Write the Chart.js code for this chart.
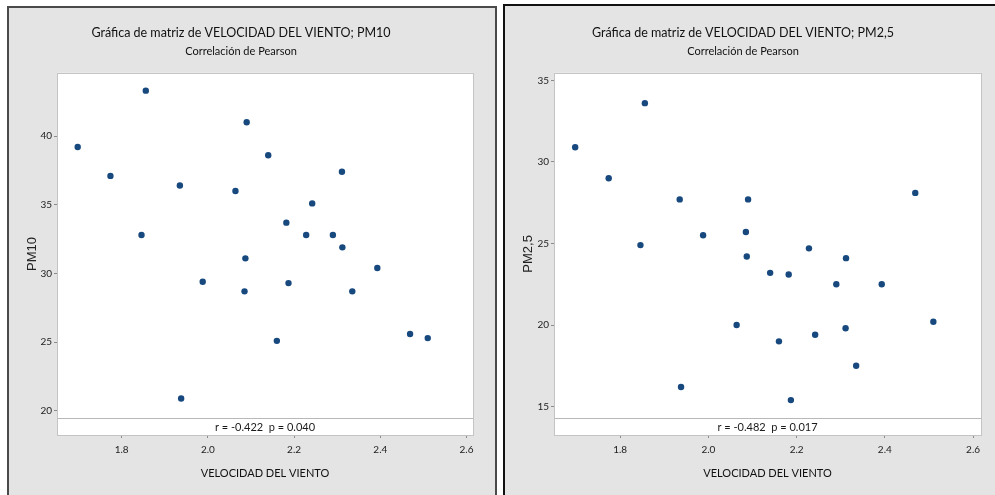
<!DOCTYPE html>
<html>
<head>
  <meta charset="utf-8">
  <title>Gráfica de matriz de VELOCIDAD DEL VIENTO</title>
  <script src="https://cdn.jsdelivr.net/npm/chart.js@4.4.1/dist/chart.umd.min.js"></script>
  <style>
    body { margin: 0; background: #fff; width: 995px; height: 495px; overflow: hidden; position: relative; }
    .panel { position: absolute; background: #e4e4e4; box-sizing: border-box; }
    .panel canvas { display: block; }
    #panel1 { left: 7px; top: 6px; width: 490px; height: 489px; border: 2px solid #4a4a4a; border-bottom: none; }
    #panel2 { left: 503px; top: 4px; width: 492px; height: 491px; border: 2px solid #111; border-right: none; border-bottom: none; }
  </style>
</head>
<body>
  <div class="panel" id="panel1"><canvas id="chartPM10" width="486" height="487"></canvas></div>
  <div class="panel" id="panel2"><canvas id="chartPM25" width="490" height="489"></canvas></div>

  <script>
    // datos
    var velocidad = [1.698, 1.774, 1.846, 1.856, 1.935, 1.938, 1.988, 2.064, 2.085, 2.087, 2.090, 2.140,
                     2.160, 2.182, 2.187, 2.228, 2.242, 2.290, 2.311, 2.312, 2.335, 2.393, 2.469, 2.510];
    var pm10 = [39.2, 37.1, 32.8, 43.3, 36.4, 20.9, 29.4, 36.0, 28.7, 31.1, 41.0, 38.6,
                25.1, 33.7, 29.3, 32.8, 35.1, 32.8, 37.4, 31.9, 28.7, 30.4, 25.6, 25.3];
    var pm25 = [30.9, 29.0, 24.9, 33.6, 27.7, 16.2, 25.5, 20.0, 25.7, 24.2, 27.7, 23.2,
                19.0, 23.1, 15.4, 24.7, 19.4, 22.5, 19.8, 24.1, 17.5, 22.5, 28.1, 20.2];

    var xTicks = [1.8, 2.0, 2.2, 2.4, 2.6];
    var yTicksPM10 = [20, 25, 30, 35, 40];
    var yTicksPM25 = [15, 20, 25, 30, 35];

    var pearsonPM10 = 'r = -0.422  p = 0.040';
    var pearsonPM25 = 'r = -0.482  p = 0.017';

    // fondo blanco, marco gris y franja con la correlacion
    var marcoPlugin = {
      id: 'marco',
      beforeDatasetsDraw: function(chart) {
        var ctx = chart.ctx, a = chart.chartArea;
        ctx.save();
        var yBand = a.bottom - 17;
        ctx.strokeStyle = '#b8b8b8';
        ctx.lineWidth = 1;
        ctx.beginPath();
        ctx.moveTo(a.left, Math.round(yBand) + 0.5);
        ctx.lineTo(a.right, Math.round(yBand) + 0.5);
        ctx.stroke();
        ctx.strokeStyle = '#c4c4c4';
        ctx.strokeRect(Math.round(a.left) + 0.5, Math.round(a.top) + 0.5, Math.round(a.width), Math.round(a.height));
        ctx.fillStyle = '#1a1a1a';
        ctx.font = '11px Lato';
        ctx.textAlign = 'center';
        ctx.textBaseline = 'middle';
        ctx.fillText(chart.options.plugins.marco.texto, (a.left + a.right) / 2, a.bottom - 8);
        ctx.restore();
      },
      beforeDraw: function(chart) {
        var ctx = chart.ctx, a = chart.chartArea;
        ctx.save();
        ctx.fillStyle = '#fff';
        ctx.fillRect(a.left, a.top, a.width, a.height);
        ctx.restore();
      }
    };

    function crearGrafica(id, serie, nombre, yTicks, yMin, yMax, xMin, xMax, pearson, izq, der, tituloTop) {
      return new Chart(document.getElementById(id), {
        type: 'scatter',
        data: {
          datasets: [{
            label: nombre,
            data: velocidad.map(function(v, i) { return { x: v, y: serie[i] }; }),
            backgroundColor: '#17497f',
            borderWidth: 0,
            pointRadius: 3.2,
            pointHoverRadius: 3.2
          }]
        },
        options: {
          responsive: false,
          animation: false,
          devicePixelRatio: 1,
          layout: { padding: { left: 0, right: der, top: 0, bottom: 0 } },
          plugins: {
            legend: { display: false },
            tooltip: { enabled: false },
            title: {
              display: true,
              text: 'Gráfica de matriz de VELOCIDAD DEL VIENTO; ' + nombre,
              color: '#111',
              font: { family: 'Lato', size: 12.5, weight: 'normal' },
              padding: { top: tituloTop, bottom: 0 }
            },
            subtitle: {
              display: true,
              text: 'Correlación de Pearson',
              color: '#111',
              font: { family: 'Lato', size: 11 },
              padding: { top: 5, bottom: 14.4 }
            },
            marco: { texto: pearson }
          },
          scales: {
            x: {
              type: 'linear',
              min: xMin,
              max: xMax,
              border: { display: false },
              grid: { drawOnChartArea: false, drawTicks: true, tickLength: 3, color: '#8a8a8a' },
              afterBuildTicks: function(s) { s.ticks = xTicks.map(function(v) { return { value: v }; }); },
              afterFit: function(s) { s.height = 60; },
              ticks: {
                color: '#222',
                font: { family: 'Lato', size: 10 },
                padding: 6,
                maxRotation: 0,
                callback: function(v) { return v.toFixed(1); }
              },
              title: {
                display: true,
                text: 'VELOCIDAD DEL VIENTO',
                color: '#111',
                font: { family: 'Lato', size: 11 },
                padding: { top: 0, bottom: 15 }
              }
            },
            y: {
              type: 'linear',
              min: yMin,
              max: yMax,
              border: { display: false },
              grid: { drawOnChartArea: false, drawTicks: true, tickLength: 3, color: '#8a8a8a' },
              afterBuildTicks: function(s) { s.ticks = yTicks.map(function(v) { return { value: v }; }); },
              afterFit: function(s) { s.width = izq; },
              ticks: {
                color: '#222',
                font: { family: 'Lato', size: 10 },
                padding: 2
              },
              title: {
                display: true,
                text: nombre,
                color: '#222',
                font: { family: 'Liberation Sans', size: 13 },
                padding: { top: 16, bottom: 0 }
              }
            }
          }
        },
        plugins: [marcoPlugin]
      });
    }

    crearGrafica('chartPM10', pm10, 'PM10', yTicksPM10, 18.25, 44.6, 1.650, 2.615, pearsonPM10, 48, 22, 17.2);
    crearGrafica('chartPM25', pm25, 'PM2,5', yTicksPM25, 13.26, 35.46, 1.650, 2.618, pearsonPM25, 49, 14, 19.2);
  </script>
</body>
</html>
